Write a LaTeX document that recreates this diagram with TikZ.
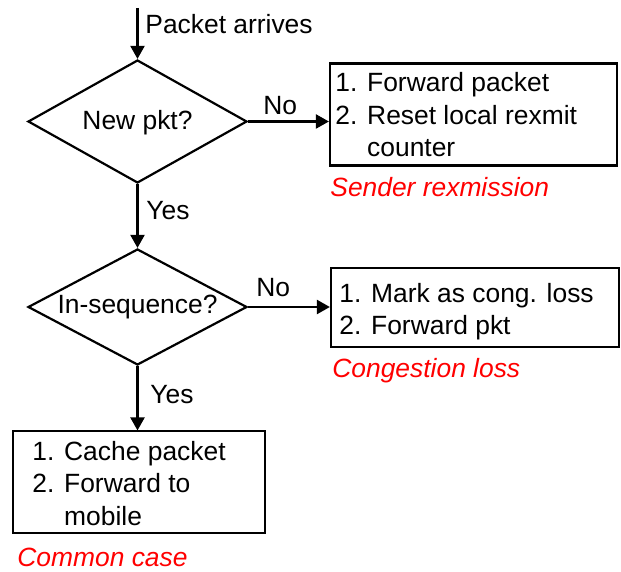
\documentclass[tikz,border=0pt]{standalone}
\usepackage{fontspec}
\setmainfont{Liberation Sans}
\usetikzlibrary{shapes.geometric,arrows.meta}
\begin{document}
\begin{tikzpicture}[x=0.5pt,y=-0.5pt,
  every node/.style={font=\fontsize{13.2pt}{16.25pt}\selectfont, inner sep=0pt},
  dia/.style={draw, line width=1.1pt, diamond, minimum width=109.5pt, inner sep=0pt},
  boxthick/.style={draw, line width=1.1pt, rectangle},
  boxthin/.style={draw, line width=0.55pt, rectangle},
  conn/.style={line width=1.1pt, -{Triangle[length=6.5pt,width=7pt]}},
  lbl/.style={anchor=base west},
  ctr/.style={anchor=base},
  note/.style={anchor=base west, text=red, font=\fontsize{13.2pt}{16.25pt}\selectfont\itshape}
]
\useasboundingbox (0,0) rectangle (621,572);

\coordinate (src) at (137.5,8);
\node[dia, minimum height=61.5pt] (d1) at (137.5,121.5) {};
\node[dia, minimum height=58pt] (d2) at (137.5,307) {};
\node[boxthick, minimum width=143.5pt, minimum height=51pt] (b1) at (473.5,114.5) {};
\node[boxthick, minimum width=144pt, minimum height=39.5pt] (b2) at (475,307.5) {};
\node[boxthin, minimum width=126pt, minimum height=51pt] (b3) at (139,482) {};

\node[ctr] (t1) at (137.5,130) {New pkt?};
\node[ctr] (t2) at (137.5,314) {In-sequence?};

\node[lbl] (b1t) at (335,92) {\vtop{\hbox{1. Forward packet}\hbox{2. Reset local rexmit}\hbox{\phantom{2. }counter}}};
\node[lbl] (b2t) at (339,302) {\vtop{\hbox{1. Mark as cong. loss}\hbox{2. Forward pkt}}};
\node[lbl] (b3t) at (32,460) {\vtop{\hbox{1. Cache packet}\hbox{2. Forward to}\hbox{\phantom{2. }mobile}}};

\node[lbl] (pa) at (145,34) {Packet arrives};
\node[lbl] (no1) at (263,115) {No};
\node[lbl] (yes1) at (146,220) {Yes};
\node[lbl] (no2) at (256,297) {No};
\node[lbl] (yes2) at (150,403) {Yes};

\node[note] (n1) at (330,197) {Sender rexmission};
\node[note] (n2) at (332,377) {Congestion loss};
\node[note] (n3) at (17,566) {Common case};

\draw[conn] (src) -- (d1.north);
\draw[conn] (d1.east) -- (d1.east -| b1.west);
\draw[conn] (d1.south) -- (d2.north);
\draw[conn] (d2.east) -- (d2.east -| b2.west);
\draw[conn] (d2.south) -- (d2.south |- b3.north);
\end{tikzpicture}
\end{document}
